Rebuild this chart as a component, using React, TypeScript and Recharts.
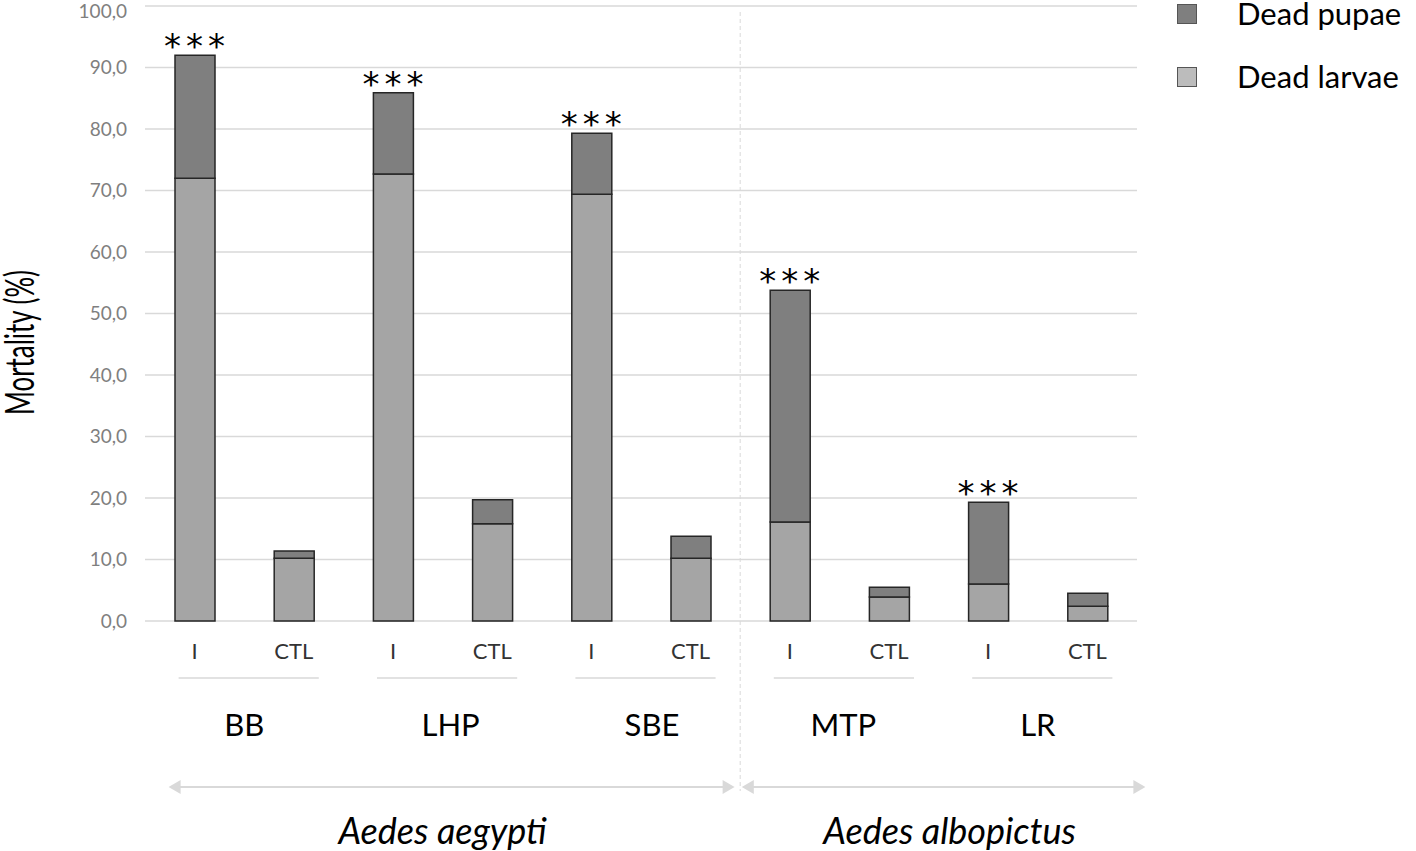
import React from 'react';
import { BarChart, Bar, XAxis, YAxis, CartesianGrid, LabelList } from 'recharts';

const treatments = ['I', 'CTL', 'I', 'CTL', 'I', 'CTL', 'I', 'CTL', 'I', 'CTL'];
const sites = ['BB', 'LHP', 'SBE', 'MTP', 'LR'];
const species = ['Aedes aegypti', 'Aedes albopictus'];
const deadLarvae = [72.0, 10.2, 72.7, 15.8, 69.4, 10.2, 16.1, 3.9, 6.0, 2.4];
const deadPupae = [20.0, 1.2, 13.2, 3.9, 9.9, 3.6, 37.7, 1.6, 13.3, 2.1];
const significance = ['***', '', '***', '', '***', '', '***', '', '***', ''];
const yTicks = [0, 10, 20, 30, 40, 50, 60, 70, 80, 90, 100];
const legendItems = ['Dead pupae', 'Dead larvae'];

const FONT = 'Lato, "Open Sans", sans-serif';
const LARVAE = '#a5a5a5';
const PUPAE = '#7f7f7f';
const EDGE = '#262626';
const LIGHT = '#d9d9d9';

const data = treatments.map((t, i) => ({
  name: `${t}-${i}`,
  treatment: t,
  larvae: deadLarvae[i],
  pupae: deadPupae[i],
  sig: significance[i],
}));

const Arrow = ({ x1, x2, y }: { x1: number; x2: number; y: number }) => (
  <g>
    <line x1={x1 + 8} x2={x2 - 8} y1={y} y2={y} stroke={LIGHT} strokeWidth={2} />
    <polygon points={`${x1},${y} ${x1 + 12},${y - 7} ${x1 + 12},${y + 7}`} fill={LIGHT} />
    <polygon points={`${x2},${y} ${x2 - 12},${y - 7} ${x2 - 12},${y + 7}`} fill={LIGHT} />
  </g>
);

// tick renders treatment label; CTL ticks also draw the site bracket + label
const XTick = (props: any) => {
  const { x, y, index } = props;
  const t = treatments[index];
  const step = 99.2;
  const out: React.ReactNode[] = [
    <text key="t" x={x} y={y + 30} textAnchor="middle" fontSize={22} fill="#333" fontFamily={FONT}>
      {t}
    </text>,
  ];
  if (index % 2 === 1) {
    const xi = x - step;
    const site = sites[(index - 1) / 2];
    const extra = site === 'LHP' ? 8 : site === 'SBE' ? 11 : site === 'MTP' ? 4 : 0;
    out.push(
      <line key="l" x1={xi - 16} x2={x + 25} y1={y + 49} y2={y + 49} stroke={LIGHT} strokeWidth={1.5} />,
      <text key="s" x={(xi + x) / 2 + extra} y={y + 107} textAnchor="middle" fontSize={31} fill="#000" fontFamily={FONT}>
        {site}
      </text>
    );
  }
  if (index === 5) {
    out.push(
      <line key="sep" x1={x + step / 2} x2={x + step / 2} y1={y - 617} y2={y + 162} stroke={LIGHT} strokeDasharray="4 3" strokeWidth={1} />,
      <Arrow key="a1" x1={x - 5 * step - 26} x2={x + 44} y={y + 158} />,
      <text key="sp1" x={x - 2.5 * step} y={y + 215} textAnchor="middle" fontSize={36} fontStyle="italic" fill="#000" fontFamily={FONT}>
        {species[0]}
      </text>
    );
  }
  if (index === 9) {
    out.push(
      <Arrow key="a2" x1={x - 3 * step - 48} x2={x + 58} y={y + 158} />,
      <text key="sp2" x={x - 1.5 * step + 11} y={y + 215} textAnchor="middle" fontSize={36} fontStyle="italic" fill="#000" fontFamily={FONT}>
        {species[1]}
      </text>
    );
  }
  return <g>{out}</g>;
};

const StarLabel = (props: any) => {
  const { x, y, width, index } = props;
  const s = significance[index];
  if (!s) return null;
  return (
    <text x={x + width / 2 + 2} y={y + 3} textAnchor="middle" fontSize={34} letterSpacing={5} fill="#000" fontFamily="'DejaVu Sans', sans-serif">
      {s}
    </text>
  );
};

// y title is drawn narrow and tall, like the original
const YTitle = (props: any) => {
  const { viewBox } = props;
  const cx = viewBox.x + 34;
  const cy = viewBox.y + viewBox.height / 2 + 29;
  return (
    <text
      x={cx}
      y={cy}
      transform={`rotate(-90, ${cx}, ${cy})`}
      textAnchor="middle"
      fontSize={40}
      textLength={145}
      lengthAdjust="spacingAndGlyphs"
      fill="#000"
      fontFamily={FONT}
    >
      Mortality (%)
    </text>
  );
};

const legendColors = [PUPAE, '#bcbcbc'];

export default function App() {
  return (
    <div style={{ position: 'absolute', left: 0, top: 0, width: 1416, height: 851, background: '#fff', overflow: 'hidden' }}>
      <BarChart
        width={1416}
        height={851}
        data={data}
        margin={{ top: 6, right: 279, left: 0, bottom: 190 }}
        style={{ fontFamily: FONT }}
      >
        <CartesianGrid vertical={false} stroke={LIGHT} strokeWidth={1.5} />
        <XAxis
          dataKey="name"
          axisLine={false}
          tickLine={false}
          interval={0}
          height={40}
          tick={<XTick />}
        />
        <YAxis
          width={145}
          domain={[0, 100]}
          ticks={yTicks}
          axisLine={false}
          tickLine={false}
          tickMargin={12}
          tick={{ fontSize: 19, fill: '#7f7f7f', fontFamily: FONT }}
          tickFormatter={(v: number) => v.toFixed(1).replace('.', ',')}
          label={<YTitle />}
        />
        <Bar dataKey="larvae" stackId="a" fill={LARVAE} stroke={EDGE} strokeWidth={1.5} barSize={40} isAnimationActive={false} />
        <Bar dataKey="pupae" stackId="a" fill={PUPAE} stroke={EDGE} strokeWidth={1.5} barSize={40} isAnimationActive={false}>
          <LabelList dataKey="sig" content={<StarLabel />} />
        </Bar>
      </BarChart>
      <div style={{ position: 'absolute', left: 1177, top: 0, fontFamily: FONT, fontSize: 31, color: '#000', lineHeight: '27px' }}>
        {legendItems.map((label, i) => (
          <div key={label} style={{ display: 'flex', alignItems: 'center', height: 27, marginBottom: 36 }}>
            <span
              style={{
                display: 'inline-block',
                width: 18,
                height: 18,
                background: legendColors[i],
                border: '1.5px solid #555',
                marginRight: 40,
              }}
            />
            <span style={{ whiteSpace: 'nowrap' }}>{label}</span>
          </div>
        ))}
      </div>
    </div>
  );
}
